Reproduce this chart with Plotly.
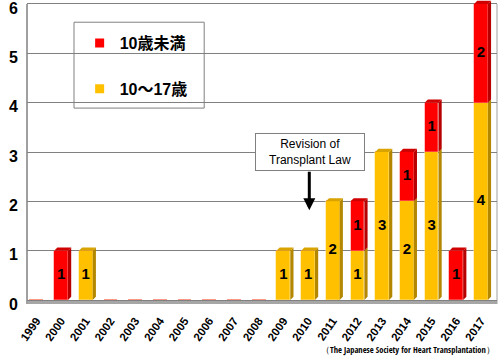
import plotly.graph_objects as go

years = list(range(1999, 2018))
year_labels = [str(y) for y in years]
teen = [0, 0, 1, 0, 0, 0, 0, 0, 0, 0, 1, 1, 2, 1, 3, 2, 3, 0, 4]      # 10〜17歳
child = [0, 1, 0, 0, 0, 0, 0, 0, 0, 0, 0, 0, 0, 1, 0, 1, 1, 1, 2]     # 10歳未満
series_names = ["10歳未満", "10〜17歳"]
y_ticks = [0, 1, 2, 3, 4, 5, 6]

RED, RED_SIDE, RED_TOP = "#FF0000", "#B80000", "#D00000"
YEL, YEL_SIDE, YEL_TOP = "#FFC000", "#B38700", "#D9A300"

W = 0.56
DX = 0.13
DY = 0.065

FONT = "Arial, 'Liberation Sans', 'Noto Sans CJK JP', sans-serif"
NARROW = "'Liberation Sans Narrow', 'Arial Narrow', 'Open Sans Condensed', 'DejaVu Sans Condensed', Arial, sans-serif"

fig = go.Figure()

fig.add_trace(go.Bar(x=years, y=teen, width=W, marker=dict(color=YEL, line=dict(color="#FFE080", width=0.5)),
                     showlegend=False, hoverinfo="skip"))
fig.add_trace(go.Bar(x=years, y=child, width=W, marker=dict(color=RED, line=dict(color="#FF8080", width=0.5)),
                     showlegend=False, hoverinfo="skip"))

def faces(vals, bases, tops_only):
    sx, sy, tx, ty = [], [], [], []
    for x, v, b, t in zip(years, vals, bases, tops_only):
        if v <= 0:
            continue
        y0, y1 = b, b + v
        r = x + W / 2
        l = x - W / 2
        sx += [r, r + DX, r + DX, r, r, None]
        sy += [y0, y0 + DY, y1 + DY, y1, y0, None]
        if t:
            tx += [l, l + DX, r + DX, r, l, None]
            ty += [y1, y1 + DY, y1 + DY, y1, y1, None]
    return sx, sy, tx, ty

teen_top = [c == 0 for c in child]
sx, sy, tx, ty = faces(teen, [0] * len(years), teen_top)
fig.add_trace(go.Scatter(x=sx, y=sy, fill="toself", fillcolor=YEL_SIDE, mode="lines",
                         line=dict(width=0), showlegend=False, hoverinfo="skip"))
fig.add_trace(go.Scatter(x=tx, y=ty, fill="toself", fillcolor=YEL_TOP, mode="lines",
                         line=dict(width=0), showlegend=False, hoverinfo="skip"))
sx, sy, tx, ty = faces(child, teen, [True] * len(years))
fig.add_trace(go.Scatter(x=sx, y=sy, fill="toself", fillcolor=RED_SIDE, mode="lines",
                         line=dict(width=0), showlegend=False, hoverinfo="skip"))
fig.add_trace(go.Scatter(x=tx, y=ty, fill="toself", fillcolor=RED_TOP, mode="lines",
                         line=dict(width=0), showlegend=False, hoverinfo="skip"))

lx, ly, lt = [], [], []
for x, t, c in zip(years, teen, child):
    if t > 0:
        lx.append(x); ly.append(t / 2); lt.append(str(t))
    if c > 0:
        lx.append(x); ly.append(t + c / 2); lt.append(str(c))
fig.add_trace(go.Scatter(x=lx, y=ly, text=lt, mode="text",
                         textfont=dict(family=FONT, size=15, color="black", weight="bold"),
                         showlegend=False, hoverinfo="skip"))

fig.add_trace(go.Scatter(x=[None], y=[None], mode="markers", name=series_names[0],
                         marker=dict(symbol="square", size=9, color=RED), legendgroup="a"))
fig.add_trace(go.Scatter(x=[None], y=[None], mode="markers", name=series_names[1],
                         marker=dict(symbol="square", size=9, color=YEL), legendgroup="b"))

fig.update_layout(
    width=499, height=360,
    margin=dict(l=27, r=2, t=0, b=56, autoexpand=False),
    paper_bgcolor="white", plot_bgcolor="white",
    barmode="stack", bargap=0,
    font=dict(family=FONT, color="black"),
    showlegend=True,
    legend=dict(x=0.112, y=0.914, xanchor="left", yanchor="top",
                bgcolor="rgba(0,0,0,0)", borderwidth=0,
                font=dict(size=16, weight="bold", family=FONT),
                tracegroupgap=22),
    xaxis=dict(range=[1998.62, 2017.65], tickmode="array", tickvals=years, ticktext=year_labels,
               tickangle=-55, tickfont=dict(size=11.5, weight="bold"), showgrid=False,
               zeroline=False, showline=False, ticks="", ticklabelstandoff=7, fixedrange=True,
               automargin=False, ticklabeloverflow="allow"),
    yaxis=dict(range=[-0.08, 6.08], tickmode="array", tickvals=y_ticks,
               tickfont=dict(size=16, weight="bold"), showgrid=True, gridcolor="#808080",
               gridwidth=1, zeroline=False, showline=False, ticks="", ticklabelstandoff=8,
               ticklabelshift=4, fixedrange=True, automargin=False, ticklabeloverflow="allow"),
    shapes=[
        dict(type="rect", xref="paper", yref="y", x0=0.1, x1=0.377, y0=3.89, y1=5.63,
             line=dict(color="#808080", width=1), fillcolor="white", layer="between"),
        dict(type="rect", xref="paper", yref="y", x0=0, x1=1, y0=-0.08, y1=0,
             line=dict(width=0), fillcolor="#A6A6A6", layer="between"),
        dict(type="line", xref="paper", yref="y", x0=0, x1=0, y0=-0.08, y1=6,
             line=dict(color="#A0A0A0", width=2), layer="between"),
        dict(type="line", xref="paper", yref="y", x0=1, x1=1, y0=-0.08, y1=6,
             line=dict(color="#A0A0A0", width=1), layer="between"),
    ],
    annotations=[
        dict(x=2010.07, y=3.01, xref="x", yref="y", text="Revision of<br>Transplant Law",
             showarrow=False, font=dict(size=12, family=FONT), bgcolor="white",
             bordercolor="#808080", borderwidth=1, borderpad=3, width=102),
        dict(x=2010.05, y=1.82, ax=2010.05, ay=2.63, xref="x", yref="y", axref="x", ayref="y",
             text="", showarrow=True, arrowhead=2, arrowsize=0.8, arrowwidth=3, arrowcolor="black"),
        dict(x=1, y=-0.15, xref="paper", yref="paper", xanchor="right", yanchor="middle",
             text="（The Japanese Society for Heart Transplantation）", showarrow=False,
             font=dict(size=8.5, family=NARROW)),
    ],
)

fig.write_html("out.html", config={"displayModeBar": False},
               post_script="document.body.style.margin='0';document.body.style.padding='0';")
